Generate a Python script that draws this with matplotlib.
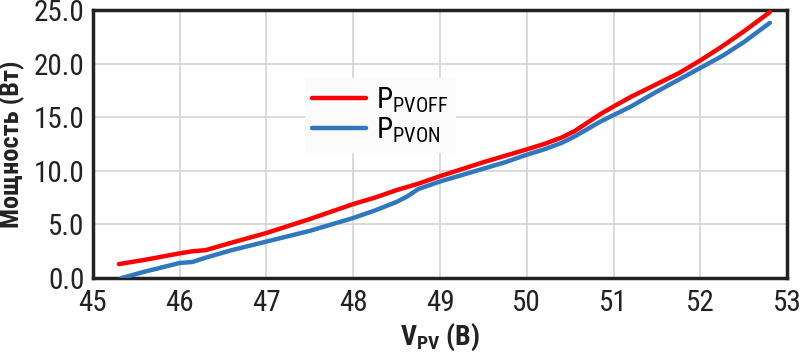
import matplotlib
matplotlib.use('Agg')
import matplotlib.pyplot as plt

# узкий шрифт, ближе всего к оригиналу
fam = 'Roboto Condensed'
plt.rcParams['font.family'] = [fam, 'DejaVu Sans']
plt.rcParams['mathtext.fontset'] = 'custom'
plt.rcParams['mathtext.rm'] = fam
plt.rcParams['mathtext.bf'] = fam + ':bold'

# данные
v_off = [45.3, 45.6, 46.0, 46.15, 46.3, 46.6, 47.0, 47.5, 48.0, 48.25, 48.5, 48.75,
         49.0, 49.5, 49.75, 50.0, 50.2, 50.4, 50.55, 50.7, 50.85, 51.0, 51.2, 51.5,
         51.75, 52.0, 52.25, 52.5, 52.65, 52.8]
p_off = [1.3, 1.7, 2.3, 2.5, 2.6, 3.3, 4.2, 5.5, 6.9, 7.5, 8.2, 8.8,
         9.5, 10.8, 11.4, 12.0, 12.5, 13.1, 13.7, 14.5, 15.3, 16.0, 16.9, 18.1,
         19.1, 20.3, 21.6, 23.0, 23.9, 24.8]
v_on = [45.33, 45.6, 46.0, 46.15, 46.3, 46.6, 47.0, 47.5, 48.0, 48.25, 48.5, 48.62,
        48.75, 49.0, 49.5, 49.75, 50.0, 50.2, 50.4, 50.55, 50.7, 50.85, 51.0, 51.2,
        51.5, 51.75, 52.0, 52.25, 52.5, 52.65, 52.8]
p_on = [0.0, 0.6, 1.4, 1.5, 1.9, 2.6, 3.4, 4.4, 5.6, 6.3, 7.1, 7.6,
        8.3, 9.0, 10.2, 10.8, 11.5, 12.0, 12.6, 13.2, 13.9, 14.6, 15.2, 16.0,
        17.4, 18.5, 19.6, 20.7, 22.0, 22.9, 23.8]

x_ticks = [45, 46, 47, 48, 49, 50, 51, 52, 53]
y_ticks = [0, 5, 10, 15, 20, 25]

fig = plt.figure(figsize=(8, 3.56), dpi=100)
ax = fig.add_axes([0.116, 0.219, 0.868, 0.753])

ax.plot(v_off, p_off, color='#ff0000', lw=3.2, solid_capstyle='round',
        solid_joinstyle='round', label=r'P$_{\mathrm{PVOFF}}$', zorder=3)
ax.plot(v_on, p_on, color='#2f77bf', lw=3.2, solid_capstyle='round',
        solid_joinstyle='round', label=r'P$_{\mathrm{PVON}}$', zorder=3)

ax.set_xlim(45, 53)
ax.set_ylim(0, 25)
ax.set_xticks(x_ticks)
ax.set_yticks(y_ticks)
ax.set_yticklabels([f'{t:.1f}' for t in y_ticks])
ax.tick_params(length=0, labelsize=21, colors='#222222')
ax.tick_params(axis='x', pad=8)
ax.tick_params(axis='y', pad=6)
ax.grid(True, color='#d4d4d4', lw=1.2)
for s in ax.spines.values():
    s.set_color('#222222')
    s.set_linewidth(2.5)

ax.set_xlabel(r'$\mathbf{V_{PV}}$ (В)', fontsize=20, fontweight='bold', color='#222222', labelpad=3)
ax.set_ylabel('Мощность (Вт)', fontsize=19, fontweight='bold', color='#222222', labelpad=6)

leg = ax.legend(loc='upper left', bbox_to_anchor=(0.305, 0.745), fontsize=21, frameon=True,
                handlelength=1.85, handletextpad=0.35, labelspacing=0.0,
                borderpad=0.25, borderaxespad=0, fancybox=False)
leg.get_frame().set_facecolor('#fbfbfb')
leg.get_frame().set_edgecolor('none')
leg.get_frame().set_alpha(1)

fig.savefig('out.png', dpi=100)
plt.close(fig)
